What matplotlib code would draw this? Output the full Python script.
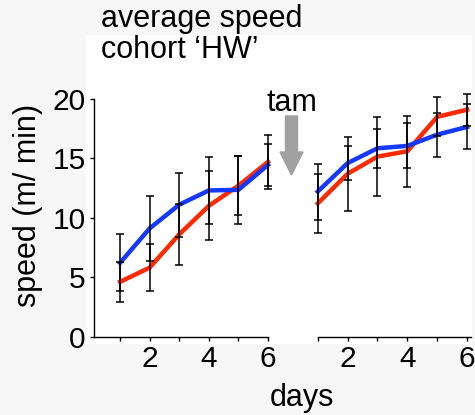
import numpy as np
import matplotlib
matplotlib.use("Agg")
import matplotlib.pyplot as plt
from matplotlib.patches import Rectangle, FancyArrow

plt.rcParams['font.family'] = ['Liberation Sans', 'DejaVu Sans']

# Daten: mittlere Geschwindigkeit (m/min) pro Tag, vor und nach tam
days = [1, 2, 3, 4, 5, 6]

blue_pre = [6.2, 9.1, 11.1, 12.3, 12.35, 14.45]
blue_pre_err = [2.4, 2.75, 2.7, 2.8, 2.85, 1.75]
red_pre = [4.6, 5.8, 8.6, 11.0, 12.7, 14.7]
red_pre_err = [1.7, 2.0, 2.55, 2.9, 2.5, 2.25]

blue_post = [12.2, 14.6, 15.85, 16.05, 17.0, 17.65]
blue_post_err = [2.35, 1.43, 1.65, 1.9, 1.85, 1.9]
red_post = [11.2, 13.7, 15.15, 15.6, 18.5, 19.1]
red_post_err = [2.45, 3.1, 3.3, 3.0, 1.65, 1.35]

yticks = [0, 5, 10, 15, 20]
xtick_labels = ["", "2", "", "4", "", "6"]

BLUE = "#1438ff"
RED = "#ff2a00"
W, H = 475, 415
FS = 21.5

fig = plt.figure(figsize=(W / 100, H / 100), dpi=100, facecolor="#f7f7f7")
# weisser Hintergrund hinter dem Plotbereich
fig.add_artist(Rectangle((86 / W, 1 - 344 / H), (472 - 86) / W, (344 - 35) / H,
                         transform=fig.transFigure, facecolor="white",
                         edgecolor="none", zorder=0))

axL = fig.add_axes([94 / W, 1 - 336.5 / H, (268 - 94) / W, (336.5 - 99) / H])
axR = fig.add_axes([317.7 / W, 1 - 336.5 / H, (471 - 317.7) / W, (336.5 - 99) / H])


def draw(ax, blue, berr, red, rerr):
    ax.set_facecolor("none")
    ax.plot(days, red, color=RED, lw=3.2, zorder=2, clip_on=False)
    ax.plot(days, blue, color=BLUE, lw=3.2, zorder=3, clip_on=False)
    for v, e in ((red, rerr), (blue, berr)):
        ax.errorbar(days, v, yerr=e, fmt="none", ecolor="black", elinewidth=1.1,
                    capsize=3, capthick=1.1, zorder=4, clip_on=False)
    ax.set_ylim(0, 20)
    ax.set_xticks(days)
    ax.set_xticklabels(xtick_labels)
    for s in ("top", "right"):
        ax.spines[s].set_visible(False)
    ax.spines["bottom"].set_linewidth(1.0)
    ax.spines["left"].set_linewidth(1.0)
    ax.tick_params(axis="both", direction="out", length=3, width=1.0,
                   labelsize=FS, pad=3)


draw(axL, blue_pre, blue_pre_err, red_pre, red_pre_err)
axL.set_xlim(0.12, 6.0)
axL.set_yticks(yticks)

draw(axR, blue_post, blue_post_err, red_post, red_post_err)
axR.set_xlim(1.0, 6.13)
axR.spines["left"].set_visible(False)
axR.set_yticks([])

fig.text(28 / W, 1 - 205 / H, "speed (m/ min)", rotation=90, fontsize=FS + 0.5,
         ha="center", va="center")
fig.text(302 / W, 1 - 406 / H, "days", fontsize=FS + 0.5, ha="center", va="baseline")
fig.text(101 / W, 1 - 26.5 / H, "average speed", fontsize=FS + 0.5, ha="left", va="baseline")
fig.text(101 / W, 1 - 58.5 / H, "cohort \u2018HW\u2019", fontsize=FS + 0.5, ha="left", va="baseline")

# tam-Pfeil
fig.text(292 / W, 1 - 111 / H, "tam", fontsize=FS + 0.5, ha="center", va="baseline")
fig.add_artist(FancyArrow(2.915, (H - 116) / 100, 0, -(175 - 116) / 100,
                          width=0.12, head_width=0.23, head_length=0.23,
                          length_includes_head=True, color="#a0a0a0",
                          edgecolor="none", transform=fig.dpi_scale_trans))

fig.savefig("out.png", dpi=100, facecolor=fig.get_facecolor())
